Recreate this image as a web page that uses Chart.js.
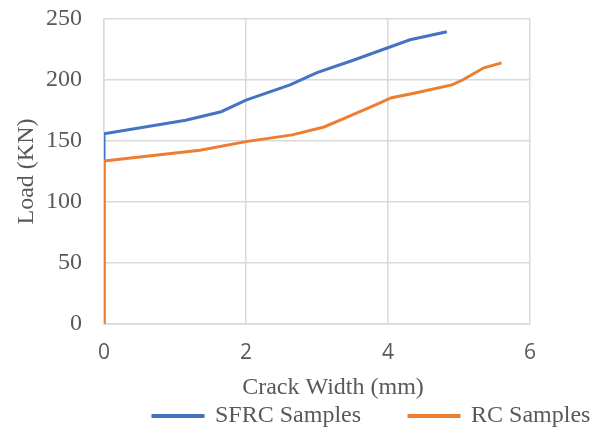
<!DOCTYPE html>
<html>
<head>
<meta charset="utf-8">
<script src="https://cdn.jsdelivr.net/npm/chart.js@4"></script>
<style>
  html, body { margin: 0; padding: 0; background: #fff; }
  #wrap { width: 590px; height: 429px; }
</style>
</head>
<body>
<div id="wrap"><canvas id="crackChart" width="590" height="429"></canvas></div>
<script>
// crack width (mm) / load (KN)
const sfrcWidth = [0, 0, 1.15, 1.65, 2.0, 2.62, 3.0, 3.5, 4.31, 4.83];
const sfrcLoad = [0, 156, 167, 174, 183.5, 196, 206, 216, 233, 239.5];
const rcWidth = [0, 0, 1.35, 2.0, 2.65, 3.1, 3.4, 3.8, 4.05, 4.35, 4.9, 5.05, 5.35, 5.6];
const rcLoad = [0, 133.5, 142.5, 149.5, 155, 161.5, 169, 179, 185.5, 189, 196, 200, 210, 214];
const seriesNames = ["SFRC Samples", "RC Samples"];
const xTicks = [0, 2, 4, 6];
const yTicks = [0, 50, 100, 150, 200, 250];

const toPoints = (xs, ys) => xs.map((x, i) => ({ x: x, y: ys[i] }));

const blue = "#4472C4";
const orange = "#ED7D31";
const grid = "#d9d9d9";
const textColor = "#595959";
const serif = "'Liberation Serif', 'Times New Roman', serif";
const sans = "'Open Sans', 'Liberation Sans', sans-serif";

const legendGap = 48;

const layoutTweaks = {
  id: "layoutTweaks",
  afterLayout(chart) {
    // legend row sits lower and further right than Chart.js would put it
    // (the legend clips to its own box, so widen it)
    const lg = chart.legend;
    lg.top = 416 - 12 - legendGap;
    lg.bottom = 429;
    lg.left = 153 - legendGap;
    lg.right = 900;

    // x title is a bit right of the plot centre in the original
    const xs = chart.scales.x;
    if (!xs._titleShifted) {
      const drawTitle = xs.drawTitle;
      xs.drawTitle = function () {
        this.ctx.save();
        this.ctx.translate(16, 0);
        drawTitle.call(this);
        this.ctx.restore();
      };
      xs._titleShifted = true;
    }
  },
};

new Chart(document.getElementById("crackChart"), {
  type: "scatter",
  data: {
    datasets: [
      {
        label: seriesNames[0],
        data: toPoints(sfrcWidth, sfrcLoad),
        showLine: true,
        borderColor: blue,
        backgroundColor: blue,
        borderWidth: 3,
        pointRadius: 0,
        tension: 0,
        order: 1,
      },
      {
        label: seriesNames[1],
        data: toPoints(rcWidth, rcLoad),
        showLine: true,
        borderColor: orange,
        backgroundColor: orange,
        borderWidth: 3,
        pointRadius: 0,
        tension: 0,
        order: 0,
      },
    ],
  },
  plugins: [layoutTweaks],
  options: {
    responsive: false,
    animation: false,
    layout: { padding: { top: 19, right: 60, bottom: 0, left: 0 } },
    plugins: {
      tooltip: { enabled: false },
      legend: {
        position: "bottom",
        align: "start",
        maxHeight: 27,
        labels: {
          font: { family: serif, size: 24 },
          color: textColor,
          boxWidth: 50,
          boxHeight: 1,
          padding: legendGap,
          sort: (a, b) => a.datasetIndex - b.datasetIndex,
        },
      },
    },
    scales: {
      x: {
        type: "linear",
        min: 0,
        max: 6,
        afterBuildTicks: (scale) => {
          scale.ticks = xTicks.map((v) => ({ value: v }));
        },
        afterFit: (scale) => {
          scale.height = 78;
        },
        grid: { color: grid, lineWidth: 1.5, drawTicks: false },
        border: { color: grid, width: 1.5 },
        ticks: { font: { family: sans, size: 21 }, color: textColor, padding: 16 },
        title: {
          display: true,
          text: "Crack Width (mm)",
          font: { family: serif, size: 24 },
          color: textColor,
          padding: { top: 4, bottom: 0 },
        },
      },
      y: {
        type: "linear",
        min: 0,
        max: 250,
        afterBuildTicks: (scale) => {
          scale.ticks = yTicks.map((v) => ({ value: v }));
        },
        afterFit: (scale) => {
          scale.width = 104;
          scale.paddingTop = 0;
          scale.paddingBottom = 0;
        },
        grid: { color: grid, lineWidth: 1.5, drawTicks: false },
        border: { color: grid, width: 1.5 },
        ticks: { font: { family: serif, size: 24 }, color: textColor, padding: 22 },
        title: {
          display: true,
          text: "Load (KN)",
          font: { family: serif, size: 24 },
          color: textColor,
          padding: { top: 12, bottom: 0 },
        },
      },
    },
  },
});
</script>
</body>
</html>
